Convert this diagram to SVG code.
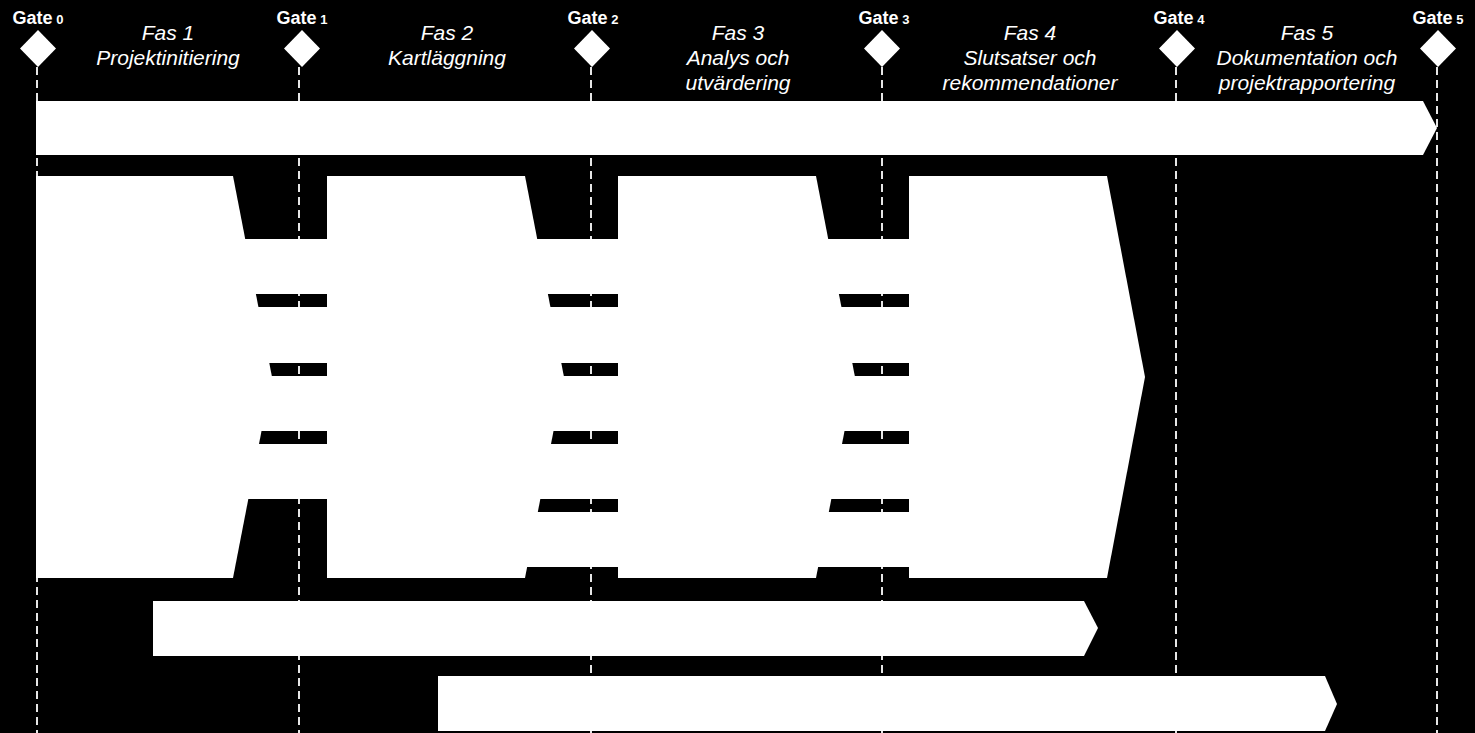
<svg xmlns="http://www.w3.org/2000/svg" width="1475" height="733" viewBox="0 0 1475 733">
<style>
.w{fill:#fff}
.gl{stroke:#e6e6e6;stroke-width:2;stroke-dasharray:8 5;fill:none}
.gate{font-family:"Liberation Sans",Arial,sans-serif;font-weight:bold;fill:#fff;font-size:18px;text-anchor:middle}
.n{font-size:13px}
.fas{font-family:"Liberation Sans",Arial,sans-serif;font-style:italic;fill:#fff;font-size:21px;text-anchor:middle}
</style>
<rect x="0" y="0" width="1475" height="733" fill="#000"/>
<g id="connectors">
<line class="gl" x1="37" y1="67" x2="37" y2="733"/>
<line class="gl" x1="299" y1="67" x2="299" y2="733"/>
<line class="gl" x1="591" y1="67" x2="591" y2="733"/>
<line class="gl" x1="882" y1="67" x2="882" y2="733"/>
<line class="gl" x1="1176" y1="67" x2="1176" y2="733"/>
<line class="gl" x1="1437" y1="67" x2="1437" y2="733"/>
</g>
<g id="gate0"><polygon class="w" points="38,30 56,48.5 38,67 20,48.5"/><text class="gate" x="38" y="24">Gate<tspan class="n"> 0</tspan></text></g>
<g id="gate1"><polygon class="w" points="302,30 320,48.5 302,67 284,48.5"/><text class="gate" x="302" y="24">Gate<tspan class="n"> 1</tspan></text></g>
<g id="gate2"><polygon class="w" points="592,30 610,48.5 592,67 574,48.5"/><text class="gate" x="593" y="24">Gate<tspan class="n"> 2</tspan></text></g>
<g id="gate3"><polygon class="w" points="882,30 900,48.5 882,67 864,48.5"/><text class="gate" x="884" y="24">Gate<tspan class="n"> 3</tspan></text></g>
<g id="gate4"><polygon class="w" points="1177,30 1195,48.5 1177,67 1159,48.5"/><text class="gate" x="1179" y="24">Gate<tspan class="n"> 4</tspan></text></g>
<g id="gate5"><polygon class="w" points="1438,30 1456,48.5 1438,67 1420,48.5"/><text class="gate" x="1438" y="24">Gate<tspan class="n"> 5</tspan></text></g>
<g id="fas1-label"><text class="fas" x="168" y="40">Fas 1</text><text class="fas" x="168" y="65">Projektinitiering</text></g>
<g id="fas2-label"><text class="fas" x="447" y="40">Fas 2</text><text class="fas" x="447" y="65">Kartläggning</text></g>
<g id="fas3-label"><text class="fas" x="738" y="40">Fas 3</text><text class="fas" x="738" y="65">Analys och</text><text class="fas" x="738" y="90">utvärdering</text></g>
<g id="fas4-label"><text class="fas" x="1030" y="40">Fas 4</text><text class="fas" x="1030" y="65">Slutsatser och</text><text class="fas" x="1030" y="90">rekommendationer</text></g>
<g id="fas5-label"><text class="fas" x="1307" y="40">Fas 5</text><text class="fas" x="1307" y="65">Dokumentation och</text><text class="fas" x="1307" y="90">projektrapportering</text></g>
<g id="top-bar"><polygon class="w" points="36,101 1423,101 1437,128 1423,155 36,155"/></g>
<g id="rows-gap1">
<rect class="w" x="230" y="239" width="97" height="55"/>
<rect class="w" x="230" y="307" width="97" height="56"/>
<rect class="w" x="230" y="376" width="97" height="55"/>
<rect class="w" x="230" y="444" width="97" height="55"/>
</g>
<g id="rows-gap2">
<rect class="w" x="522" y="239" width="96" height="55"/>
<rect class="w" x="522" y="307" width="96" height="56"/>
<rect class="w" x="522" y="376" width="96" height="55"/>
<rect class="w" x="522" y="444" width="96" height="55"/>
<rect class="w" x="522" y="512" width="96" height="55"/>
</g>
<g id="rows-gap3">
<rect class="w" x="813" y="239" width="96" height="55"/>
<rect class="w" x="813" y="307" width="96" height="56"/>
<rect class="w" x="813" y="376" width="96" height="55"/>
<rect class="w" x="813" y="444" width="96" height="55"/>
<rect class="w" x="813" y="512" width="96" height="55"/>
</g>
<g id="fas1"><polygon class="w" points="36,176 233,176 272,377 233,578 36,578"/></g>
<g id="fas2"><polygon class="w" points="327,176 525,176 564,377 525,578 327,578"/></g>
<g id="fas3"><polygon class="w" points="618,176 816,176 855,377 816,578 618,578"/></g>
<g id="fas4"><polygon class="w" points="909,176 1107,176 1145,377 1107,578 909,578"/></g>
<g id="bar2"><polygon class="w" points="153,601 1084,601 1098,628 1084,656 153,656"/></g>
<g id="bar3"><polygon class="w" points="438,676 1325,676 1337,704 1325,731 438,731"/></g>
</svg>
